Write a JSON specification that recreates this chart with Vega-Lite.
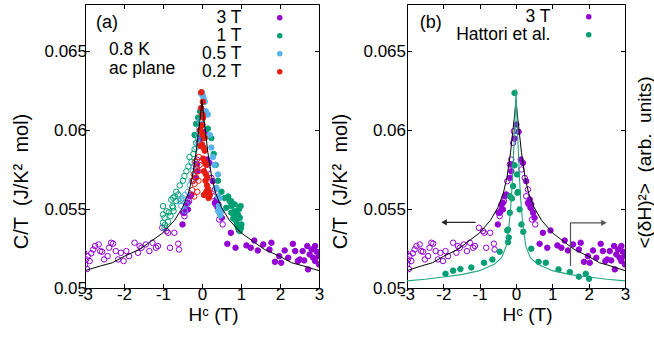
{
  "$schema": "https://vega.github.io/schema/vega-lite/v6.json",
  "padding": {"left": 11, "top": 3, "right": 0, "bottom": 0},
  "bounds": "flush",
  "spacing": 88,
  "config": {
    "font": "Liberation Sans",
    "view": {"stroke": "#000", "strokeWidth": 1},
    "axis": {"grid": false, "domain": false, "ticks": true, "tickSize": -4.5, "tickColor": "#000", "tickWidth": 1, "labelFont": "Liberation Sans", "labelFontSize": 17, "labelColor": "#000", "titleFont": "Liberation Sans", "titleFontSize": 20, "titleFontWeight": "normal", "titleColor": "#000", "labelFlush": false, "labelOverlap": false},
    "axisX": {"labelPadding": 3, "titlePadding": 3, "titleFontSize": 19},
    "axisY": {"labelPadding": 3, "titlePadding": 12},
    "legend": {"labelFont": "Liberation Sans", "labelFontSize": 17.5, "labelColor": "#000", "rowPadding": -1, "symbolType": "circle", "symbolSize": 30, "symbolStrokeWidth": 0, "symbolOpacity": 1, "labelAlign": "right", "padding": 0},
    "text": {"font": "Liberation Sans", "fontSize": 17.5, "color": "#000"}
  },
  "datasets": {
    "pts": [
      {"s":"3 T","d":"dn","H":-3.02,"C":0.05223},{"s":"3 T","d":"dn","H":-2.97,"C":0.05181},{"s":"3 T","d":"dn","H":-3.0,"C":0.05149},{"s":"3 T","d":"dn","H":-2.93,"C":0.05202},{"s":"3 T","d":"dn","H":-2.88,"C":0.05171},{"s":"3 T","d":"dn","H":-2.95,"C":0.0512},{"s":"3 T","d":"dn","H":-2.84,"C":0.0522},{"s":"3 T","d":"dn","H":-2.79,"C":0.05244},{"s":"3 T","d":"dn","H":-2.74,"C":0.05266},{"s":"3 T","d":"dn","H":-2.65,"C":0.05276},{"s":"3 T","d":"dn","H":-2.61,"C":0.05234},{"s":"3 T","d":"dn","H":-2.56,"C":0.0523},{"s":"3 T","d":"dn","H":-2.51,"C":0.05181},{"s":"3 T","d":"dn","H":-2.42,"C":0.05202},{"s":"3 T","d":"dn","H":-2.38,"C":0.05255},{"s":"3 T","d":"dn","H":-2.33,"C":0.05287},{"s":"3 T","d":"dn","H":-2.28,"C":0.05281},{"s":"3 T","d":"dn","H":-2.21,"C":0.05234},{"s":"3 T","d":"dn","H":-2.15,"C":0.05181},{"s":"3 T","d":"dn","H":-2.08,"C":0.05223},{"s":"3 T","d":"dn","H":-2.01,"C":0.05171},{"s":"3 T","d":"dn","H":-1.94,"C":0.05234},{"s":"3 T","d":"dn","H":-1.87,"C":0.05202},{"s":"3 T","d":"dn","H":-1.73,"C":0.05287},{"s":"3 T","d":"dn","H":-1.64,"C":0.05223},{"s":"3 T","d":"dn","H":-1.6,"C":0.05266},{"s":"3 T","d":"dn","H":-1.55,"C":0.05255},{"s":"3 T","d":"dn","H":-1.44,"C":0.05276},{"s":"3 T","d":"dn","H":-1.35,"C":0.05234},{"s":"3 T","d":"dn","H":-1.27,"C":0.05287},{"s":"3 T","d":"dn","H":-1.18,"C":0.05255},{"s":"3 T","d":"dn","H":-1.13,"C":0.05266},{"s":"3 T","d":"dn","H":-1.02,"C":0.05382},{"s":"3 T","d":"dn","H":-0.91,"C":0.05361},{"s":"3 T","d":"dn","H":-0.87,"C":0.0535},{"s":"3 T","d":"dn","H":-0.82,"C":0.05255},{"s":"3 T","d":"dn","H":-0.71,"C":0.0535},{"s":"3 T","d":"dn","H":-0.61,"C":0.05281},{"s":"3 T","d":"dn","H":-0.59,"C":0.05244},{"s":"3 T","d":"dn","H":-0.45,"C":0.05455},{"s":"3 T","d":"dn","H":-0.33,"C":0.0555},{"s":"3 T","d":"dn","H":-0.24,"C":0.05677},{"s":"3 T","d":"dn","H":-0.17,"C":0.05783},{"s":"3 T","d":"dn","H":-0.13,"C":0.05814},{"s":"3 T","d":"dn","H":-0.08,"C":0.0592},{"s":"3 T","d":"dn","H":-0.06,"C":0.05994},{"s":"3 T","d":"dn","H":0.15,"C":0.05751},{"s":"3 T","d":"dn","H":0.24,"C":0.05698},{"s":"3 T","d":"dn","H":0.28,"C":0.05582},{"s":"3 T","d":"dn","H":0.33,"C":0.05624},{"s":"3 T","d":"dn","H":0.35,"C":0.0553},{"s":"3 T","d":"dn","H":0.42,"C":0.05508},{"s":"3 T","d":"dn","H":0.44,"C":0.05434},{"s":"3 T","d":"dn","H":0.53,"C":0.05403},
      {"s":"3 T","d":"up","H":-0.5,"C":0.05403},{"s":"3 T","d":"up","H":-0.48,"C":0.05477},{"s":"3 T","d":"up","H":-0.45,"C":0.05477},{"s":"3 T","d":"up","H":-0.4,"C":0.05529},{"s":"3 T","d":"up","H":-0.4,"C":0.05498},{"s":"3 T","d":"up","H":-0.36,"C":0.05498},{"s":"3 T","d":"up","H":-0.36,"C":0.0554},{"s":"3 T","d":"up","H":-0.31,"C":0.05582},{"s":"3 T","d":"up","H":-0.27,"C":0.05593},{"s":"3 T","d":"up","H":-0.17,"C":0.05698},{"s":"3 T","d":"up","H":-0.13,"C":0.0574},{"s":"3 T","d":"up","H":-0.13,"C":0.05783},{"s":"3 T","d":"up","H":-0.04,"C":0.05947},{"s":"3 T","d":"up","H":0.01,"C":0.06036},{"s":"3 T","d":"up","H":0.07,"C":0.0599},{"s":"3 T","d":"up","H":0.13,"C":0.05814},{"s":"3 T","d":"up","H":0.19,"C":0.05793},{"s":"3 T","d":"up","H":0.28,"C":0.05677},{"s":"3 T","d":"up","H":0.33,"C":0.0554},{"s":"3 T","d":"up","H":0.38,"C":0.05561},{"s":"3 T","d":"up","H":0.4,"C":0.05508},{"s":"3 T","d":"up","H":0.42,"C":0.0553},{"s":"3 T","d":"up","H":0.47,"C":0.05477},{"s":"3 T","d":"up","H":0.51,"C":0.05445},{"s":"3 T","d":"up","H":0.65,"C":0.0528},{"s":"3 T","d":"up","H":0.74,"C":0.0535},{"s":"3 T","d":"up","H":0.86,"C":0.05255},{"s":"3 T","d":"up","H":0.95,"C":0.05365},{"s":"3 T","d":"up","H":1.14,"C":0.0527},{"s":"3 T","d":"up","H":1.25,"C":0.05255},{"s":"3 T","d":"up","H":1.34,"C":0.05301},{"s":"3 T","d":"up","H":1.43,"C":0.05238},{"s":"3 T","d":"up","H":1.57,"C":0.05276},{"s":"3 T","d":"up","H":1.73,"C":0.05244},{"s":"3 T","d":"up","H":1.78,"C":0.05287},{"s":"3 T","d":"up","H":1.87,"C":0.05166},{"s":"3 T","d":"up","H":1.98,"C":0.05202},{"s":"3 T","d":"up","H":2.03,"C":0.0516},{"s":"3 T","d":"up","H":2.12,"C":0.05238},{"s":"3 T","d":"up","H":2.21,"C":0.05192},{"s":"3 T","d":"up","H":2.33,"C":0.0528},{"s":"3 T","d":"up","H":2.39,"C":0.05234},{"s":"3 T","d":"up","H":2.46,"C":0.05171},{"s":"3 T","d":"up","H":2.51,"C":0.05181},{"s":"3 T","d":"up","H":2.58,"C":0.05234},{"s":"3 T","d":"up","H":2.62,"C":0.05175},{"s":"3 T","d":"up","H":2.7,"C":0.05266},{"s":"3 T","d":"up","H":2.72,"C":0.05118},{"s":"3 T","d":"up","H":2.76,"C":0.05213},{"s":"3 T","d":"up","H":2.81,"C":0.05244},{"s":"3 T","d":"up","H":2.85,"C":0.05192},{"s":"3 T","d":"up","H":2.9,"C":0.05171},{"s":"3 T","d":"up","H":2.9,"C":0.05266},{"s":"3 T","d":"up","H":2.94,"C":0.0523},{"s":"3 T","d":"up","H":2.99,"C":0.05202},{"s":"3 T","d":"up","H":3.0,"C":0.05149},
      {"s":"1 T","d":"dn","H":-1.0,"C":0.05519},{"s":"1 T","d":"dn","H":-0.96,"C":0.05445},{"s":"1 T","d":"dn","H":-1.0,"C":0.05414},{"s":"1 T","d":"dn","H":-0.96,"C":0.05382},{"s":"1 T","d":"dn","H":-0.91,"C":0.05487},{"s":"1 T","d":"dn","H":-0.81,"C":0.05456},{"s":"1 T","d":"dn","H":-0.76,"C":0.05519},{"s":"1 T","d":"dn","H":-0.74,"C":0.05572},{"s":"1 T","d":"dn","H":-0.66,"C":0.05551},{"s":"1 T","d":"dn","H":-0.73,"C":0.05487},{"s":"1 T","d":"dn","H":-0.87,"C":0.0542},{"s":"1 T","d":"dn","H":-1.0,"C":0.05466},{"s":"1 T","d":"dn","H":-0.61,"C":0.05593},{"s":"1 T","d":"dn","H":-0.53,"C":0.05561},{"s":"1 T","d":"dn","H":-0.79,"C":0.0556},{"s":"1 T","d":"dn","H":-0.66,"C":0.0561},{"s":"1 T","d":"dn","H":-0.49,"C":0.0568},{"s":"1 T","d":"dn","H":-0.4,"C":0.0574},{"s":"1 T","d":"dn","H":-0.27,"C":0.058},{"s":"1 T","d":"dn","H":-0.32,"C":0.0583},{"s":"1 T","d":"dn","H":-0.19,"C":0.0588},{"s":"1 T","d":"dn","H":-0.15,"C":0.0592},{"s":"1 T","d":"dn","H":-0.1,"C":0.0595},{"s":"1 T","d":"dn","H":-0.7,"C":0.0558},{"s":"1 T","d":"dn","H":-0.57,"C":0.0565},{"s":"1 T","d":"dn","H":-0.74,"C":0.0551},{"s":"1 T","d":"dn","H":-0.95,"C":0.054},{"s":"1 T","d":"dn","H":-0.85,"C":0.0548},{"s":"1 T","d":"dn","H":-0.45,"C":0.0571},{"s":"1 T","d":"dn","H":-0.35,"C":0.0577},{"s":"1 T","d":"dn","H":-0.22,"C":0.0585},{"s":"1 T","d":"dn","H":-0.05,"C":0.06},{"s":"1 T","d":"dn","H":-0.03,"C":0.0606},
      {"s":"1 T","d":"up","H":-0.19,"C":0.0597},{"s":"1 T","d":"up","H":-0.15,"C":0.0604},{"s":"1 T","d":"up","H":-0.1,"C":0.0608},{"s":"1 T","d":"up","H":-0.05,"C":0.0612},{"s":"1 T","d":"up","H":0.05,"C":0.061},{"s":"1 T","d":"up","H":0.15,"C":0.0601},{"s":"1 T","d":"up","H":0.24,"C":0.0595},{"s":"1 T","d":"up","H":0.3,"C":0.0585},{"s":"1 T","d":"up","H":0.35,"C":0.0578},{"s":"1 T","d":"up","H":0.41,"C":0.0568},{"s":"1 T","d":"up","H":0.5,"C":0.0561},{"s":"1 T","d":"up","H":0.58,"C":0.0557},{"s":"1 T","d":"up","H":0.67,"C":0.0558},{"s":"1 T","d":"up","H":0.75,"C":0.0555},{"s":"1 T","d":"up","H":0.84,"C":0.0553},{"s":"1 T","d":"up","H":0.71,"C":0.0555},{"s":"1 T","d":"up","H":0.75,"C":0.05519},{"s":"1 T","d":"up","H":0.99,"C":0.05519},{"s":"1 T","d":"up","H":0.84,"C":0.05487},{"s":"1 T","d":"up","H":0.92,"C":0.05466},{"s":"1 T","d":"up","H":0.97,"C":0.05445},{"s":"1 T","d":"up","H":0.88,"C":0.05424},{"s":"1 T","d":"up","H":1.01,"C":0.05403},{"s":"1 T","d":"up","H":0.92,"C":0.05382},{"s":"1 T","d":"up","H":0.97,"C":0.05361},{"s":"1 T","d":"up","H":0.84,"C":0.05455},{"s":"1 T","d":"up","H":0.75,"C":0.05477},{"s":"1 T","d":"up","H":0.62,"C":0.05508},{"s":"1 T","d":"up","H":0.95,"C":0.055},{"s":"1 T","d":"up","H":1.0,"C":0.0538},{"s":"1 T","d":"up","H":0.8,"C":0.0544},{"s":"1 T","d":"up","H":0.9,"C":0.054},
      {"s":"0.5 T","d":"dn","H":-0.57,"C":0.0555},{"s":"0.5 T","d":"dn","H":-0.49,"C":0.0557},{"s":"0.5 T","d":"dn","H":-0.44,"C":0.0559},{"s":"0.5 T","d":"dn","H":-0.4,"C":0.0553},{"s":"0.5 T","d":"dn","H":-0.53,"C":0.0552},{"s":"0.5 T","d":"dn","H":-0.36,"C":0.0561},{"s":"0.5 T","d":"dn","H":-0.31,"C":0.0565},{"s":"0.5 T","d":"dn","H":-0.27,"C":0.0568},{"s":"0.5 T","d":"dn","H":-0.23,"C":0.0574},{"s":"0.5 T","d":"dn","H":-0.21,"C":0.0577},{"s":"0.5 T","d":"dn","H":-0.19,"C":0.058},{"s":"0.5 T","d":"dn","H":-0.15,"C":0.0589},{"s":"0.5 T","d":"dn","H":-0.12,"C":0.0593},{"s":"0.5 T","d":"dn","H":-0.1,"C":0.0597},{"s":"0.5 T","d":"dn","H":-0.08,"C":0.0601},{"s":"0.5 T","d":"dn","H":-0.06,"C":0.0606},{"s":"0.5 T","d":"dn","H":-0.03,"C":0.0614},{"s":"0.5 T","d":"dn","H":-0.02,"C":0.0623},{"s":"0.5 T","d":"dn","H":-0.49,"C":0.0555},{"s":"0.5 T","d":"dn","H":-0.44,"C":0.0549},
      {"s":"0.5 T","d":"up","H":0.0,"C":0.0624},{"s":"0.5 T","d":"up","H":0.02,"C":0.0622},{"s":"0.5 T","d":"up","H":0.04,"C":0.062},{"s":"0.5 T","d":"up","H":0.07,"C":0.0618},{"s":"0.5 T","d":"up","H":0.1,"C":0.0612},{"s":"0.5 T","d":"up","H":0.15,"C":0.061},{"s":"0.5 T","d":"up","H":0.2,"C":0.0597},{"s":"0.5 T","d":"up","H":0.24,"C":0.0589},{"s":"0.5 T","d":"up","H":0.28,"C":0.0583},{"s":"0.5 T","d":"up","H":0.32,"C":0.0578},{"s":"0.5 T","d":"up","H":0.41,"C":0.0572},{"s":"0.5 T","d":"up","H":0.37,"C":0.0563},{"s":"0.5 T","d":"up","H":0.37,"C":0.05635},{"s":"0.5 T","d":"up","H":0.45,"C":0.0557},{"s":"0.5 T","d":"up","H":0.41,"C":0.0558},{"s":"0.5 T","d":"up","H":0.43,"C":0.0552},{"s":"0.5 T","d":"up","H":0.5,"C":0.0549},{"s":"0.5 T","d":"up","H":0.45,"C":0.0548},{"s":"0.5 T","d":"up","H":0.41,"C":0.0549},{"s":"0.5 T","d":"up","H":0.47,"C":0.0546},
      {"s":"0.2 T","d":"dn","H":-0.15,"C":0.057},{"s":"0.2 T","d":"dn","H":-0.1,"C":0.0574},{"s":"0.2 T","d":"dn","H":-0.19,"C":0.0566},{"s":"0.2 T","d":"dn","H":-0.06,"C":0.0578},{"s":"0.2 T","d":"dn","H":-0.12,"C":0.0561},{"s":"0.2 T","d":"dn","H":-0.21,"C":0.0572},{"s":"0.2 T","d":"dn","H":-0.09,"C":0.0568},{"s":"0.2 T","d":"dn","H":-0.23,"C":0.0568},{"s":"0.2 T","d":"dn","H":-0.17,"C":0.058},{"s":"0.2 T","d":"dn","H":-0.13,"C":0.0576},{"s":"0.2 T","d":"dn","H":-0.08,"C":0.0583},{"s":"0.2 T","d":"dn","H":-0.25,"C":0.0562},{"s":"0.2 T","d":"dn","H":-0.2,"C":0.0558},
      {"s":"0.2 T","d":"up","H":-0.02,"C":0.0614},{"s":"0.2 T","d":"up","H":0.03,"C":0.0608},{"s":"0.2 T","d":"up","H":-0.02,"C":0.0599},{"s":"0.2 T","d":"up","H":0.07,"C":0.0595},{"s":"0.2 T","d":"up","H":0.0,"C":0.0591},{"s":"0.2 T","d":"up","H":0.07,"C":0.0587},{"s":"0.2 T","d":"up","H":0.03,"C":0.0582},{"s":"0.2 T","d":"up","H":0.11,"C":0.0578},{"s":"0.2 T","d":"up","H":0.05,"C":0.0574},{"s":"0.2 T","d":"up","H":0.14,"C":0.057},{"s":"0.2 T","d":"up","H":0.09,"C":0.0568},{"s":"0.2 T","d":"up","H":0.15,"C":0.0563},{"s":"0.2 T","d":"up","H":0.2,"C":0.0559},{"s":"0.2 T","d":"up","H":0.11,"C":0.0561},{"s":"0.2 T","d":"up","H":0.05,"C":0.0559},{"s":"0.2 T","d":"up","H":0.17,"C":0.0557},{"s":"0.2 T","d":"up","H":0.07,"C":0.058},{"s":"0.2 T","d":"up","H":0.0,"C":0.0603},{"s":"0.2 T","d":"up","H":0.02,"C":0.0597},{"s":"0.2 T","d":"up","H":0.04,"C":0.0589},{"s":"0.2 T","d":"up","H":0.1,"C":0.0572},{"s":"0.2 T","d":"up","H":0.13,"C":0.0565},{"s":"0.2 T","d":"up","H":0.18,"C":0.0561},{"s":"0.2 T","d":"up","H":0.01,"C":0.061},{"s":"0.2 T","d":"up","H":0.02,"C":0.0618},{"s":"0.2 T","d":"up","H":-0.05,"C":0.06},{"s":"0.2 T","d":"up","H":-0.04,"C":0.059},{"s":"0.2 T","d":"up","H":-0.02,"C":0.0624},
      {"s":"Hattori et al.","d":"up","H":-1.94,"C":0.0509},{"s":"Hattori et al.","d":"up","H":-1.73,"C":0.0511},{"s":"Hattori et al.","d":"up","H":-1.53,"C":0.0512},{"s":"Hattori et al.","d":"up","H":-1.23,"C":0.0513},{"s":"Hattori et al.","d":"up","H":-0.88,"C":0.0516},{"s":"Hattori et al.","d":"up","H":-0.65,"C":0.0518},{"s":"Hattori et al.","d":"up","H":-0.45,"C":0.0523},{"s":"Hattori et al.","d":"up","H":-0.22,"C":0.0529},{"s":"Hattori et al.","d":"up","H":-0.2,"C":0.0532},{"s":"Hattori et al.","d":"up","H":-0.24,"C":0.05365},{"s":"Hattori et al.","d":"up","H":-0.22,"C":0.0537},{"s":"Hattori et al.","d":"up","H":-0.17,"C":0.05477},{"s":"Hattori et al.","d":"up","H":-0.11,"C":0.05568},{"s":"Hattori et al.","d":"up","H":-0.17,"C":0.05582},{"s":"Hattori et al.","d":"up","H":-0.08,"C":0.05646},{"s":"Hattori et al.","d":"up","H":-0.04,"C":0.05778},{"s":"Hattori et al.","d":"up","H":-0.04,"C":0.06236},{"s":"Hattori et al.","d":"up","H":0.03,"C":0.0572},{"s":"Hattori et al.","d":"up","H":0.04,"C":0.05603},{"s":"Hattori et al.","d":"up","H":0.055,"C":0.05608},{"s":"Hattori et al.","d":"up","H":0.1,"C":0.05498},{"s":"Hattori et al.","d":"up","H":0.15,"C":0.05403},{"s":"Hattori et al.","d":"up","H":0.2,"C":0.05356},{"s":"Hattori et al.","d":"up","H":0.42,"C":0.05249},{"s":"Hattori et al.","d":"up","H":0.62,"C":0.05166},{"s":"Hattori et al.","d":"up","H":0.82,"C":0.0516},{"s":"Hattori et al.","d":"up","H":1.17,"C":0.05118},{"s":"Hattori et al.","d":"up","H":1.48,"C":0.05101},{"s":"Hattori et al.","d":"up","H":1.73,"C":0.05072},{"s":"Hattori et al.","d":"up","H":1.92,"C":0.0509},{"s":"Hattori et al.","d":"up","H":2.01,"C":0.05059}
    ],
    "fit": [
      {"m":"fit","H":-3.0,"C":0.0511},{"m":"fit","H":-2.6,"C":0.0514},{"m":"fit","H":-2.3,"C":0.0516},{"m":"fit","H":-2.0,"C":0.052},{"m":"fit","H":-1.6,"C":0.05245},{"m":"fit","H":-1.34,"C":0.0529},{"m":"fit","H":-1.0,"C":0.0535},{"m":"fit","H":-0.7,"C":0.0543},{"m":"fit","H":-0.5,"C":0.0551},{"m":"fit","H":-0.35,"C":0.056},{"m":"fit","H":-0.25,"C":0.057},{"m":"fit","H":-0.15,"C":0.0586},{"m":"fit","H":-0.085,"C":0.06},{"m":"fit","H":-0.05,"C":0.0607},{"m":"fit","H":-0.02,"C":0.0614},{"m":"fit","H":0.0,"C":0.0619},{"m":"fit","H":0.02,"C":0.0614},{"m":"fit","H":0.05,"C":0.0607},{"m":"fit","H":0.085,"C":0.06},{"m":"fit","H":0.15,"C":0.0586},{"m":"fit","H":0.25,"C":0.057},{"m":"fit","H":0.35,"C":0.056},{"m":"fit","H":0.5,"C":0.0551},{"m":"fit","H":0.7,"C":0.0543},{"m":"fit","H":1.0,"C":0.0535},{"m":"fit","H":1.34,"C":0.0529},{"m":"fit","H":1.6,"C":0.05245},{"m":"fit","H":2.0,"C":0.052},{"m":"fit","H":2.3,"C":0.0516},{"m":"fit","H":2.6,"C":0.0514},{"m":"fit","H":3.0,"C":0.0511},
      {"m":"hattori","H":-3.0,"C":0.05045},{"m":"hattori","H":-2.5,"C":0.05055},{"m":"hattori","H":-2.0,"C":0.0507},{"m":"hattori","H":-1.5,"C":0.05085},{"m":"hattori","H":-1.0,"C":0.0511},{"m":"hattori","H":-0.6,"C":0.0515},{"m":"hattori","H":-0.4,"C":0.0519},{"m":"hattori","H":-0.27,"C":0.05265},{"m":"hattori","H":-0.18,"C":0.0542},{"m":"hattori","H":-0.13,"C":0.0556},{"m":"hattori","H":-0.1,"C":0.0568},{"m":"hattori","H":-0.08,"C":0.0578},{"m":"hattori","H":-0.05,"C":0.0595},{"m":"hattori","H":-0.02,"C":0.0612},{"m":"hattori","H":0.0,"C":0.0626},{"m":"hattori","H":0.02,"C":0.0612},{"m":"hattori","H":0.05,"C":0.0595},{"m":"hattori","H":0.08,"C":0.0578},{"m":"hattori","H":0.1,"C":0.0568},{"m":"hattori","H":0.13,"C":0.0556},{"m":"hattori","H":0.18,"C":0.0542},{"m":"hattori","H":0.27,"C":0.05265},{"m":"hattori","H":0.4,"C":0.0519},{"m":"hattori","H":0.6,"C":0.0515},{"m":"hattori","H":1.0,"C":0.0511},{"m":"hattori","H":1.5,"C":0.05085},{"m":"hattori","H":2.0,"C":0.0507},{"m":"hattori","H":2.5,"C":0.05055},{"m":"hattori","H":3.0,"C":0.05045}
    ]
  },
  "resolve": {"scale": {"fill": "independent", "stroke": "independent"}, "legend": {"fill": "independent", "stroke": "independent"}},
  "hconcat": [
    {
      "width": 234, "height": 284,
      "resolve": {"axis": {"x": "independent", "y": "independent"}},
      "layer": [
        {
          "encoding": {
            "x": {"field": "H", "type": "quantitative", "scale": {"domain": [-3, 3], "nice": false, "zero": false},
                  "axis": {"orient": "bottom", "values": [-3, -2, -1, 0, 1, 2, 3], "labelExpr": "'' + datum.value", "title": "Hᶜ (T)", "titleX": 128}},
            "y": {"field": "C", "type": "quantitative", "scale": {"domain": [0.05, 0.068], "nice": false, "zero": false},
                  "axis": {"orient": "left", "values": [0.05, 0.055, 0.06, 0.065], "labelExpr": "'' + datum.value", "title": "C/T\u00a0 (J/K²\u00a0 mol)", "titleY": 177}}
          },
          "layer": [
            {
              "data": {"name": "pts"},
              "transform": [{"filter": "datum.s != 'Hattori et al.'"}],
              "mark": {"type": "point", "shape": "circle", "size": 30, "strokeWidth": 1, "opacity": 1, "clip": true},
              "encoding": {
                "stroke": {"field": "s", "type": "nominal", "scale": {"domain": ["3 T", "1 T", "0.5 T", "0.2 T"], "range": ["#9400d3", "#009e73", "#56b4e9", "#e51e10"]}, "legend": null},
                "fill": {"condition": {"test": "datum.d == 'up'", "field": "s", "type": "nominal", "scale": {"domain": ["3 T", "1 T", "0.5 T", "0.2 T"], "range": ["#9400d3", "#009e73", "#56b4e9", "#e51e10"]},
                          "legend": {"orient": "none", "legendX": 186, "legendY": 5, "title": null, "labelOffset": -47}}, "value": "transparent"}
              }
            },
            {
              "data": {"name": "fit"},
              "transform": [{"filter": "datum.m == 'fit'"}],
              "mark": {"type": "line", "color": "#000", "strokeWidth": 1, "clip": true}
            }
          ]
        },
        {
          "data": {"name": "fit"},
          "transform": [{"filter": "datum.m == 'fit'"}],
          "mark": {"type": "line", "strokeOpacity": 0},
          "encoding": {
            "x": {"field": "H", "type": "quantitative", "scale": {"domain": [-3, 3], "nice": false, "zero": false},
                  "axis": {"orient": "top", "values": [-3, -2, -1, 0, 1, 2, 3], "labels": false, "title": null}},
            "y": {"field": "C", "type": "quantitative", "scale": {"domain": [0.05, 0.068], "nice": false, "zero": false},
                  "axis": {"orient": "right", "values": [0.05, 0.055, 0.06, 0.065], "labels": false, "title": null}}
          }
        },
        {
          "data": {"values": [{"note": "(a)"}]},
          "mark": {"type": "text", "align": "left", "baseline": "alphabetic", "fontSize": 18},
          "encoding": {"text": {"field": "note"}, "x": {"datum": -2.72, "axis": null}, "y": {"datum": 0.06646, "axis": null}}
        },
        {
          "data": {"values": [{"note": "0.8 K"}]},
          "mark": {"type": "text", "align": "left", "baseline": "alphabetic"},
          "encoding": {"text": {"field": "note"}, "x": {"datum": -2.385, "axis": null}, "y": {"datum": 0.06475, "axis": null}}
        },
        {
          "data": {"values": [{"note": "ac plane"}]},
          "mark": {"type": "text", "align": "left", "baseline": "alphabetic"},
          "encoding": {"text": {"field": "note"}, "x": {"datum": -2.385, "axis": null}, "y": {"datum": 0.06359, "axis": null}}
        }
      ]
    },
    {
      "width": 218, "height": 284,
      "resolve": {"axis": {"x": "independent", "y": "independent"}},
      "layer": [
        {
          "encoding": {
            "x": {"field": "H", "type": "quantitative", "scale": {"domain": [-3, 3], "nice": false, "zero": false},
                  "axis": {"orient": "bottom", "values": [-3, -2, -1, 0, 1, 2, 3], "labelExpr": "'' + datum.value", "title": "Hᶜ (T)", "titleX": 120}},
            "y": {"field": "C", "type": "quantitative", "scale": {"domain": [0.05, 0.068], "nice": false, "zero": false},
                  "axis": {"orient": "left", "values": [0.05, 0.055, 0.06, 0.065], "labelExpr": "'' + datum.value", "title": "C/T\u00a0 (J/K²\u00a0 mol)", "titleY": 177, "labelPadding": 6}}
          },
          "layer": [
            {
              "data": {"name": "pts"},
              "transform": [{"filter": "datum.s == '3 T'"}],
              "mark": {"type": "point", "shape": "circle", "size": 30, "strokeWidth": 1, "opacity": 1, "clip": true},
              "encoding": {
                "stroke": {"field": "s", "type": "nominal", "scale": {"domain": ["3 T", "Hattori et al."], "range": ["#9400d3", "#009e73"]}, "legend": null},
                "fill": {"condition": {"test": "datum.d == 'up'", "field": "s", "type": "nominal", "scale": {"domain": ["3 T", "Hattori et al."], "range": ["#9400d3", "#009e73"]},
                          "legend": {"orient": "none", "legendX": 173, "legendY": 4, "title": null, "labelOffset": -47}}, "value": "transparent"}
              }
            },
            {
              "data": {"name": "fit"},
              "transform": [{"filter": "datum.m == 'fit'"}],
              "mark": {"type": "line", "color": "#000", "strokeWidth": 1, "clip": true}
            }
          ]
        },
        {
          "layer": [
            {
              "data": {"name": "pts"},
              "transform": [{"filter": "datum.s == 'Hattori et al.'"}],
              "mark": {"type": "point", "shape": "circle", "size": 30, "strokeWidth": 1, "opacity": 1, "clip": true},
              "encoding": {
                "stroke": {"field": "s", "type": "nominal", "scale": {"domain": ["3 T", "Hattori et al."], "range": ["#9400d3", "#009e73"]}, "legend": null},
                "fill": {"condition": {"test": "datum.d == 'up'", "field": "s", "type": "nominal", "scale": {"domain": ["3 T", "Hattori et al."], "range": ["#9400d3", "#009e73"]},
                          "legend": {"orient": "none", "legendX": 173, "legendY": 4, "title": null, "labelOffset": -47}}, "value": "transparent"}
              }
            },
            {
              "data": {"name": "fit"},
              "transform": [{"filter": "datum.m == 'hattori'"}],
              "mark": {"type": "line", "color": "#26a67f", "strokeWidth": 1.1, "clip": true}
            }
          ],
          "encoding": {
            "x": {"field": "H", "type": "quantitative", "scale": {"domain": [-3, 3], "nice": false, "zero": false},
                  "axis": {"orient": "top", "values": [-3, -2, -1, 0, 1, 2, 3], "labels": false, "title": null}},
            "y": {"field": "C", "type": "quantitative", "scale": {"domain": [0.05, 0.068], "nice": false, "zero": false},
                  "axis": {"orient": "right", "values": [0.05, 0.055, 0.06, 0.065], "labels": false, "title": "<(δH)²>\u00a0 (arb.\u00a0 units)", "titleAngle": 270, "titleBaseline": "top", "titlePadding": 10, "titleFontSize": 19, "titleY": 158}}
          }
        },
        {
          "data": {"values": [{"note": "(b)"}]},
          "mark": {"type": "text", "align": "left", "baseline": "alphabetic", "fontSize": 18},
          "encoding": {"text": {"field": "note"}, "x": {"datum": -2.65, "axis": null}, "y": {"datum": 0.06646, "axis": null}}
        },
        {
          "data": {"values": [{"arrow": "to C/T axis"}]},
          "mark": {"type": "rule", "color": "#222", "strokeWidth": 1.2},
          "encoding": {"x": {"datum": -1.11, "axis": null}, "x2": {"datum": -1.98}, "y": {"datum": 0.05416, "axis": null}}
        },
        {
          "data": {"values": [{"arrow": "to C/T axis"}]},
          "mark": {"type": "point", "shape": "triangle-left", "size": 40, "filled": true, "color": "#222", "opacity": 1},
          "encoding": {"x": {"datum": -1.98, "axis": null}, "y": {"datum": 0.05416, "axis": null}}
        },
        {
          "data": {"values": [{"arrow": "to δH axis"}]},
          "mark": {"type": "rule", "color": "#555", "strokeWidth": 1.2},
          "encoding": {"x": {"datum": 1.5, "axis": null}, "y": {"datum": 0.05139, "axis": null}, "y2": {"datum": 0.05413}}
        },
        {
          "data": {"values": [{"arrow": "to δH axis"}]},
          "mark": {"type": "rule", "color": "#555", "strokeWidth": 1.2},
          "encoding": {"x": {"datum": 1.5, "axis": null}, "x2": {"datum": 2.4}, "y": {"datum": 0.05413, "axis": null}}
        },
        {
          "data": {"values": [{"arrow": "to δH axis"}]},
          "mark": {"type": "point", "shape": "triangle-right", "size": 40, "filled": true, "color": "#555", "opacity": 1},
          "encoding": {"x": {"datum": 2.42, "axis": null}, "y": {"datum": 0.05413, "axis": null}}
        }
      ]
    }
  ]
}
